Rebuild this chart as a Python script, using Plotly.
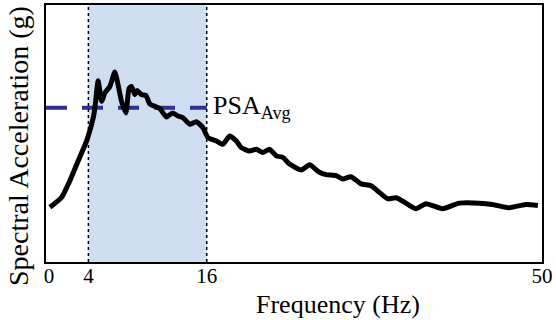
import plotly.graph_objects as go

freq = [0.1, 1.29, 2.13, 2.97, 3.82, 4.49, 4.66, 4.99, 5.34, 5.67, 6.18, 6.68, 7.36, 7.80,
        8.13, 8.37, 8.71, 8.94, 9.39, 9.82, 10.23, 10.73, 11.24, 11.92, 12.52, 13.09, 13.60,
        14.28, 14.95, 15.62, 16.13, 16.98, 17.65, 18.32, 19.0, 19.51, 20.35, 21.03, 21.69,
        22.37, 23.05, 23.72, 24.4, 25.58, 26.42, 27.43, 28.11, 29.12, 29.79, 30.64, 31.65,
        32.67, 33.5, 34.35, 35.2, 36.04, 37.22, 38.23, 39.91, 41.6, 43.63, 44.97, 46.66,
        48.35, 49.58]
psa = [0.213, 0.252, 0.317, 0.394, 0.471, 0.561, 0.600, 0.705, 0.625, 0.658, 0.683, 0.739,
       0.625, 0.580, 0.677, 0.683, 0.651, 0.667, 0.651, 0.649, 0.615, 0.606, 0.597, 0.564,
       0.580, 0.568, 0.561, 0.536, 0.546, 0.522, 0.484, 0.471, 0.458, 0.490, 0.471, 0.445,
       0.432, 0.439, 0.426, 0.439, 0.413, 0.407, 0.381, 0.358, 0.378, 0.349, 0.340, 0.336,
       0.323, 0.332, 0.304, 0.297, 0.271, 0.246, 0.250, 0.233, 0.207, 0.227, 0.207, 0.229,
       0.229, 0.224, 0.211, 0.224, 0.220]

band = [4, 16]
psa_avg = 0.600
tick_vals = [0, 4, 16, 50]
tick_text = ["0", "4", "16", "50"]
x_range = [-0.3, 50]

FONT = "Liberation Serif"

fig = go.Figure()

fig.add_shape(type="rect", xref="x", yref="paper", x0=band[0], x1=band[1], y0=0, y1=1,
              fillcolor="#CFDEF1", line=dict(width=0), layer="below")
for bx in band:
    fig.add_shape(type="line", xref="x", yref="paper", x0=bx, x1=bx, y0=0, y1=1,
                  line=dict(color="black", width=1.5, dash="dot"), layer="above")

fig.add_trace(go.Scatter(x=[x_range[0], band[1]], y=[psa_avg, psa_avg], mode="lines",
                         line=dict(color="#2E3192", width=4, dash="21px,15px"),
                         hoverinfo="skip", showlegend=False))

fig.add_trace(go.Scatter(x=freq, y=psa, mode="lines",
                         line=dict(color="black", width=5, shape="spline", smoothing=0.5),
                         showlegend=False))

fig.add_annotation(x=band[1], y=psa_avg, xref="x", yref="y", text="PSA<sub>Avg</sub>",
                   showarrow=False, xanchor="left", yanchor="middle", xshift=4, yshift=1,
                   font=dict(family=FONT, size=26, color="black"))

fig.add_annotation(x=0.5, y=0, xref="paper", yref="paper", text="Frequency (Hz)",
                   showarrow=False, xanchor="center", yanchor="top", xshift=44, yshift=-26,
                   font=dict(family=FONT, size=26, color="black"))

fig.add_annotation(x=0, y=0.5, xref="paper", yref="paper", text="Spectral Acceleration (g)",
                   showarrow=False, textangle=-90, xanchor="right", yanchor="middle",
                   xshift=-10, yshift=-13,
                   font=dict(family=FONT, size=28, color="black"))

fig.update_xaxes(range=x_range, tickvals=tick_vals, ticktext=tick_text, showgrid=False,
                 zeroline=False, showline=True, mirror=True, linecolor="black", linewidth=2,
                 ticks="", ticklabelstandoff=-6,
                 tickfont=dict(family=FONT, size=21, color="black"))
fig.update_yaxes(range=[0, 1], showticklabels=False, showgrid=False, zeroline=False,
                 showline=True, mirror=True, linecolor="black", linewidth=2, ticks="")

fig.update_layout(width=556, height=320, margin=dict(l=46, r=13, t=3, b=58),
                  plot_bgcolor="white", paper_bgcolor="white",
                  font=dict(family=FONT, color="black"))

fig.write_html("out.html")
